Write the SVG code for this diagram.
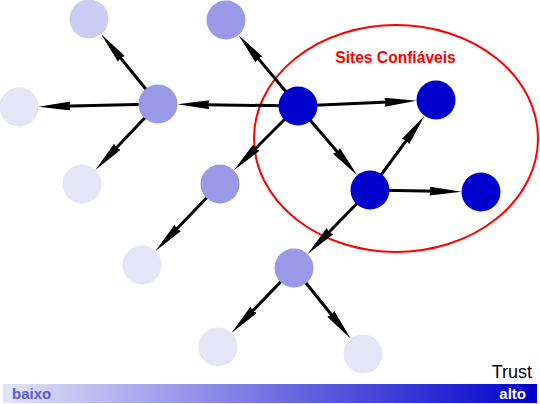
<svg xmlns="http://www.w3.org/2000/svg" width="540" height="404" viewBox="0 0 540 404">
<defs>
<marker id="arr" markerUnits="userSpaceOnUse" markerWidth="32" markerHeight="9" viewBox="0 0 32 9" refX="21" refY="4.5" orient="auto">
<path d="M0,0 L32,4.5 L0,9 L1.5,4.5 z" fill="#000"/>
</marker>
<linearGradient id="trust" x1="0" y1="0" x2="1" y2="0">
<stop offset="0" stop-color="#e4e4f8"/>
<stop offset="1" stop-color="#0000cc"/>
</linearGradient>
</defs>
<style>
.e{stroke:#000;stroke-width:3;fill:none;marker-end:url(#arr)}
.l1{fill:#e5e5f7}
.l2{fill:#ccccf2}
.m{fill:#9999e8}
.d{fill:#0000cc}
text{font-family:"Liberation Sans",Arial,sans-serif}
</style>
<ellipse cx="396" cy="138.5" rx="142" ry="113.5" fill="none" stroke="#ff0000" stroke-width="2"/>
<text x="395.5" y="63" font-size="15.6" font-weight="bold" fill="#ff0000" text-anchor="middle">Sites Confiáveis</text>
<g id="connectors">
<line class="e" x1="158" y1="104" x2="108.2" y2="42.7"/>
<line class="e" x1="158" y1="104" x2="49.5" y2="106.4"/>
<line class="e" x1="158" y1="104" x2="103" y2="161.9"/>
<line class="e" x1="298" y1="106" x2="188.5" y2="104.4"/>
<line class="e" x1="298" y1="106" x2="245.5" y2="43.4"/>
<line class="e" x1="298" y1="106" x2="241.6" y2="162.4"/>
<line class="e" x1="298" y1="106" x2="405.5" y2="101.3"/>
<line class="e" x1="298" y1="106" x2="350.1" y2="166.8"/>
<line class="e" x1="370" y1="190" x2="418" y2="124.6"/>
<line class="e" x1="370" y1="190" x2="450.5" y2="191.5"/>
<line class="e" x1="370" y1="190" x2="315.3" y2="246.2"/>
<line class="e" x1="220" y1="184" x2="163.2" y2="243"/>
<line class="e" x1="294" y1="268" x2="239.1" y2="325"/>
<line class="e" x1="294" y1="268" x2="343.9" y2="330.2"/>
</g>
<g id="nA"><circle class="l2" cx="89" cy="19" r="19.5"/></g>
<g id="nB"><circle class="m" cx="226" cy="20" r="19.5"/></g>
<g id="nC"><circle class="l1" cx="19" cy="107" r="19.5"/></g>
<g id="nD"><circle class="m" cx="158" cy="104" r="19.5"/></g>
<g id="nE"><circle class="l1" cx="82" cy="184" r="19.5"/></g>
<g id="nF"><circle class="m" cx="220" cy="184" r="19.5"/></g>
<g id="nG"><circle class="l1" cx="142" cy="265" r="19.5"/></g>
<g id="nH"><circle class="d" cx="298" cy="106" r="19.5"/></g>
<g id="nI"><circle class="d" cx="436" cy="100" r="19.5"/></g>
<g id="nJ"><circle class="d" cx="370" cy="190" r="19.5"/></g>
<g id="nK"><circle class="d" cx="481" cy="192" r="19.5"/></g>
<g id="nL"><circle class="m" cx="294" cy="268" r="19.5"/></g>
<g id="nM"><circle class="l1" cx="218" cy="347" r="19.5"/></g>
<g id="nN"><circle class="l1" cx="363" cy="354" r="19.5"/></g>
<g id="legend">
<rect x="3" y="384" width="534" height="19" fill="url(#trust)"/>
<text x="532" y="378" font-size="18" fill="#000" text-anchor="end">Trust</text>
<text x="12" y="399" font-size="15" font-weight="bold" fill="#5a5ad8">baixo</text>
<text x="526" y="398.5" font-size="15" font-weight="bold" fill="#ffffff" text-anchor="end">alto</text>
</g>
</svg>
